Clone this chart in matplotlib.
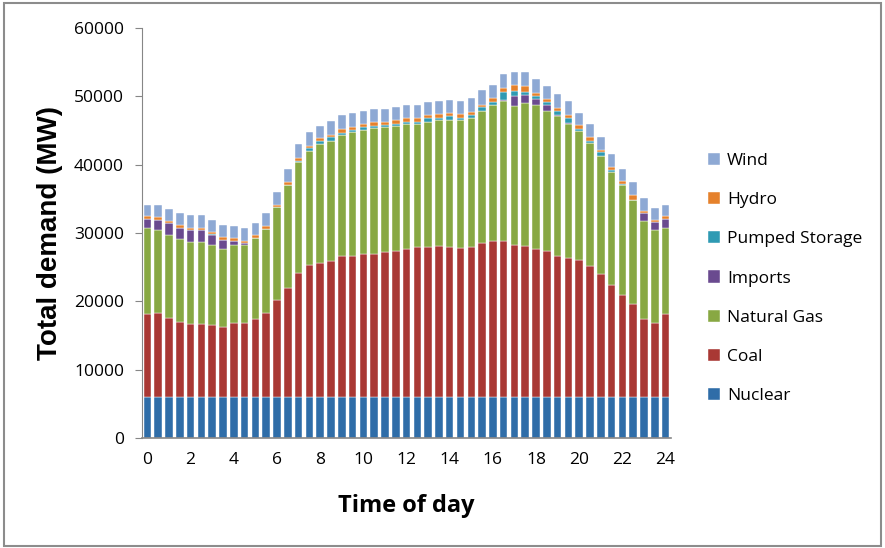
import numpy as np
import matplotlib
matplotlib.use('Agg')
import matplotlib.pyplot as plt
from matplotlib.patches import Rectangle

# Half-hourly generation mix, 0:00 to 24:00 (49 bars), MW
hours = [i / 2 for i in range(49)]

nuclear = [6000] * 49

coal = [12100, 12300, 11600, 11000, 10700, 10700, 10500, 10200, 10800, 10800,
        11400, 12300, 14200, 16000, 18100, 19300, 19600, 19900, 20600, 20700,
        21000, 21000, 21200, 21400, 21700, 21900, 21900, 22100, 21900, 21800,
        22000, 22600, 22900, 22900, 22200, 22100, 21700, 21300, 20700, 20300,
        20000, 19100, 18000, 16400, 14900, 13600, 11400, 10800, 12100]

natural_gas = [12600, 12200, 12100, 12100, 12000, 12000, 11700, 11400, 11400, 11400,
               11900, 12300, 13600, 15000, 16300, 16700, 17400, 17600, 17700, 18100,
               18100, 18300, 18300, 18200, 18200, 18000, 18300, 18400, 18700, 18700,
               18900, 19300, 19900, 20400, 20400, 20900, 21100, 20500, 20400, 19600,
               18900, 18000, 17300, 16500, 16100, 15300, 14400, 13700, 12600]

imports = [1400, 1400, 1800, 1700, 1700, 1700, 1500, 1400, 600, 400,
           0, 0, 0, 0, 0, 0, 0, 0, 0, 0,
           0, 0, 0, 0, 0, 0, 0, 0, 0, 0,
           0, 0, 0, 200, 1500, 1200, 800, 1000, 200, 200,
           0, 0, 0, 0, 0, 0, 1100, 1100, 1400]

pumped_storage = [0, 0, 0, 0, 0, 0, 200, 0, 100, 0,
                  0, 0, 0, 0, 200, 400, 500, 500, 400, 300,
                  400, 400, 300, 300, 300, 400, 700, 400, 500, 400,
                  300, 500, 400, 1100, 700, 500, 400, 300, 500, 700,
                  300, 400, 500, 300, 200, 0, 0, 0, 0]

hydro = [400, 500, 300, 300, 400, 400, 200, 400, 300, 300,
         400, 400, 300, 500, 400, 400, 400, 400, 500, 400,
         500, 500, 500, 600, 600, 500, 400, 500, 400, 500,
         500, 400, 500, 600, 800, 800, 500, 500, 500, 500,
         600, 600, 400, 500, 400, 600, 300, 300, 400]

wind = [1600, 1700, 1700, 1800, 1800, 1800, 1800, 1700, 1800, 1800,
        1800, 1900, 1900, 1800, 2000, 2000, 1800, 2000, 2000, 2000,
        1800, 1900, 1900, 1900, 1900, 1900, 1900, 1900, 2000, 1900,
        2000, 2100, 2000, 2000, 2000, 2000, 2000, 1900, 2100, 2000,
        1800, 1800, 1900, 1900, 1800, 1900, 1900, 1800, 1600]

series = [
    ("Nuclear", nuclear, "#2f6da8"),
    ("Coal", coal, "#a93834"),
    ("Natural Gas", natural_gas, "#88a843"),
    ("Imports", imports, "#6a4a8f"),
    ("Pumped Storage", pumped_storage, "#2e9ab3"),
    ("Hydro", hydro, "#e5812c"),
    ("Wind", wind, "#8ea9d4"),
]

plt.rcParams['font.family'] = ['Open Sans', 'DejaVu Sans']

fig = plt.figure(figsize=(8.85, 5.48), dpi=100)
ax = fig.add_axes([0.1605, 0.2007, 0.5977, 0.7482])

# Stack the bars
x = np.arange(len(hours))
bottom = np.zeros(len(hours))
handles = []
for name, vals, col in series:
    b = ax.bar(x, vals, width=0.7, bottom=bottom, color=col, label=name,
               edgecolor='white', linewidth=0.3)
    bottom += np.array(vals)
    handles.append(b)

ax.set_xlim(-0.5, len(hours) - 0.5)
ax.set_ylim(0, 60000)
ax.set_yticks(range(0, 60001, 10000))
ax.set_xticks(x[::4])
ax.set_xticklabels([f"{int(h)}" for h in hours[::4]])
ax.tick_params(axis='y', labelsize=12.5, length=5, color='#868686', pad=8)
ax.tick_params(axis='x', labelsize=12.5, length=0, pad=10)

for s in ['top', 'right']:
    ax.spines[s].set_visible(False)
ax.spines['left'].set_color('#868686')
ax.spines['bottom'].set_color('#868686')
ax.spines['bottom'].set_linewidth(1.2)

ax.set_ylabel("Total demand (MW)", family=['Liberation Sans', 'DejaVu Sans'],
              fontsize=20, fontweight='bold', labelpad=8)
ax.set_xlabel("Time of day", fontsize=17, fontweight='bold', labelpad=19)

leg = fig.legend(handles[::-1], [s[0] for s in series][::-1],
                 loc='upper left', bbox_to_anchor=(0.782, 0.75),
                 frameon=False, fontsize=12.5, handlelength=0.7,
                 handleheight=0.7, handletextpad=0.4, labelspacing=1.33)

# Outer grey frame
fig.patches.append(Rectangle((0.004, 0.004), 0.992, 0.991, transform=fig.transFigure,
                             fill=False, edgecolor='#8c8c8c', linewidth=1.5))

fig.savefig("out.png", dpi=100)
